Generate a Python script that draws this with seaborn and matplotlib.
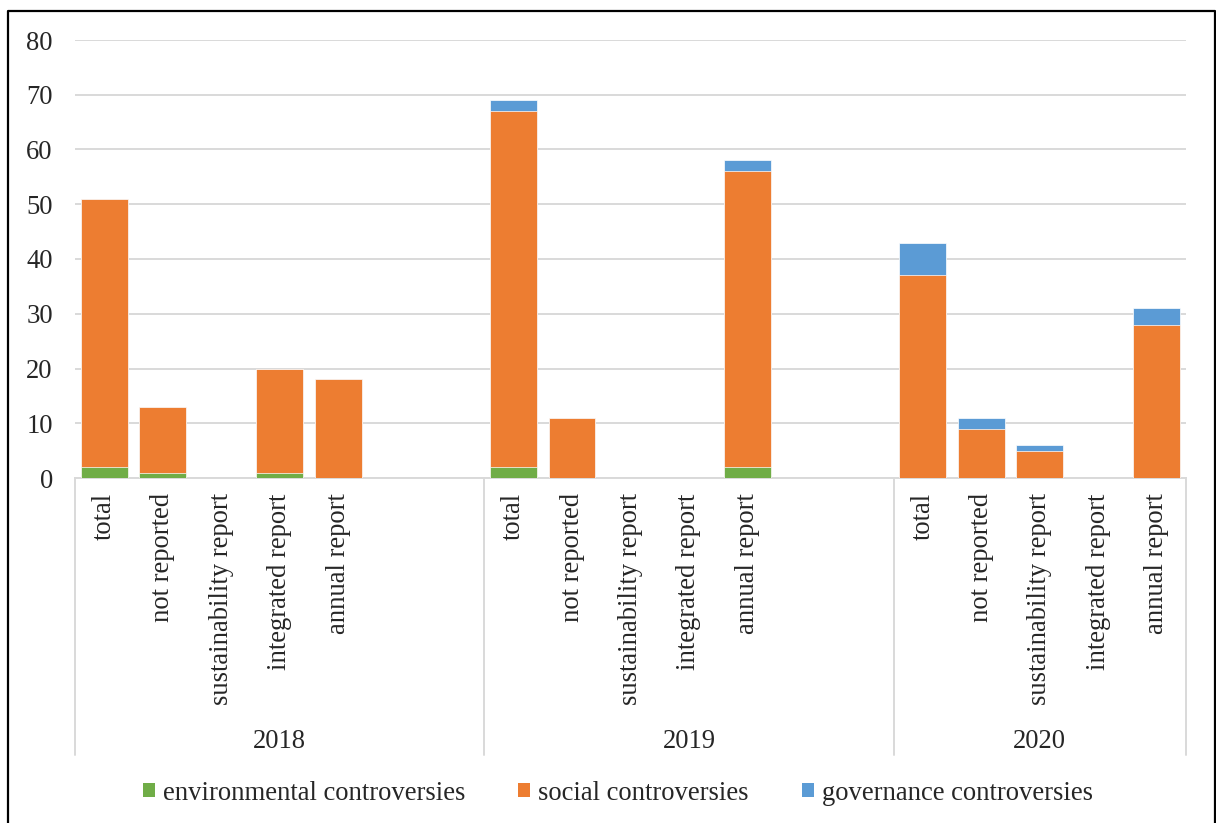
import matplotlib
matplotlib.use("Agg")
import matplotlib.pyplot as plt
import matplotlib.transforms as mtransforms
from matplotlib.lines import Line2D
from matplotlib.patches import Patch
import seaborn as sns
import pandas as pd

# ---------------- data ----------------
years = ["2018", "2019", "2020"]
cats_2018 = ["total", "not reported", "sustainability report", "integrated report", "annual report", "", ""]
cats_2019 = ["total", "not reported", "sustainability report", "integrated report", "annual report", "", ""]
cats_2020 = ["total", "not reported", "sustainability report", "integrated report", "annual report"]

env_2018 = [2, 1, 0, 1, 0, 0, 0]
soc_2018 = [49, 12, 0, 19, 18, 0, 0]
gov_2018 = [0, 0, 0, 0, 0, 0, 0]

env_2019 = [2, 0, 0, 0, 2, 0, 0]
soc_2019 = [65, 11, 0, 0, 54, 0, 0]
gov_2019 = [2, 0, 0, 0, 2, 0, 0]

env_2020 = [0, 0, 0, 0, 0]
soc_2020 = [37, 9, 5, 0, 28]
gov_2020 = [6, 2, 1, 0, 3]

series_names = ["environmental controversies", "social controversies", "governance controversies"]
colors = ["#70AD47", "#ED7D31", "#5B9BD5"]

# ---------------- build table ----------------
rows = []
for yr, cats, env, soc, gov in [
    ("2018", cats_2018, env_2018, soc_2018, gov_2018),
    ("2019", cats_2019, env_2019, soc_2019, gov_2019),
    ("2020", cats_2020, env_2020, soc_2020, gov_2020),
]:
    for i, c in enumerate(cats):
        rows.append({"slot": f"{yr}-{i}", "year": yr, "label": c,
                     "env": env[i], "soc": soc[i], "gov": gov[i]})
df = pd.DataFrame(rows)
df["top_env"] = df["env"]
df["top_soc"] = df["env"] + df["soc"]
df["top_gov"] = df["env"] + df["soc"] + df["gov"]
order = list(df["slot"])

# ---------------- figure ----------------
sns.set_theme(style="white")
plt.rcParams["font.family"] = ["Liberation Serif", "DejaVu Serif"]
FS = 19.2

W, H = 1216, 823
fig = plt.figure(figsize=(W / 100, H / 100), dpi=100)
ax = fig.add_axes([75 / W, 1 - 478 / H, (1186 - 75) / W, 438 / H])

for col, color in zip(["top_gov", "top_soc", "top_env"], [colors[2], colors[1], colors[0]]):
    sns.barplot(data=df, x="slot", y=col, order=order, color=color, saturation=1,
                width=0.8, errorbar=None, ax=ax, edgecolor="#ffffff", linewidth=0.5, zorder=3)

ax.set_xlim(-0.5, len(order) - 0.5)
ax.set_ylim(0, 80)
ax.set_yticks(range(0, 81, 10))
ax.set_yticklabels([str(v) for v in range(0, 81, 10)], fontsize=FS)
ax.yaxis.grid(True, color="#d9d9d9", linewidth=1.4, zorder=0)
ax.xaxis.grid(False)
ax.set_axisbelow(True)
ax.set_xlabel("")
ax.set_ylabel("")
for s in ["top", "right", "left"]:
    ax.spines[s].set_visible(False)
ax.spines["bottom"].set_color("#d9d9d9")
ax.spines["bottom"].set_linewidth(1.4)
ax.tick_params(axis="y", length=0, pad=16)
ax.set_xticks(range(len(order)))
ax.set_xticklabels(list(df["label"]), rotation=90, fontsize=FS, va="top", ha="center")
ax.tick_params(axis="x", length=0, pad=11)

# group separators and year labels
trans = mtransforms.blended_transform_factory(ax.transData, ax.transAxes)
sep_bottom = (478 - 755) / 438
n18, n19, n20 = len(cats_2018), len(cats_2019), len(cats_2020)
bounds = [-0.5, n18 - 0.5, n18 + n19 - 0.5, n18 + n19 + n20 - 0.5]
for b in bounds:
    ax.add_line(Line2D([b, b], [0, sep_bottom], transform=trans, color="#d9d9d9",
                       linewidth=1.4, clip_on=False))
year_y = (478 - 741) / 438
for i, yr in enumerate(years):
    cx = (bounds[i] + bounds[i + 1]) / 2
    ax.text(cx, year_y, yr, transform=trans, ha="center", va="center", fontsize=FS)

# legend
handles = [Patch(facecolor=c, edgecolor="none") for c in colors]
fig.legend(handles, series_names, loc="center", bbox_to_anchor=(618 / W, 1 - 793 / H),
           ncol=3, frameon=False, fontsize=FS, handlelength=0.45, handleheight=0.45,
           handletextpad=0.3, columnspacing=2.0)

# outer border (left, top, right)
lx, rx, ty = 8 / W, 1215 / W, 1 - 10.5 / H
fig.add_artist(Line2D([lx, lx, rx, rx], [0, ty, ty, 0], transform=fig.transFigure,
                      color="black", linewidth=1.6))

fig.savefig("out.png", dpi=100)
